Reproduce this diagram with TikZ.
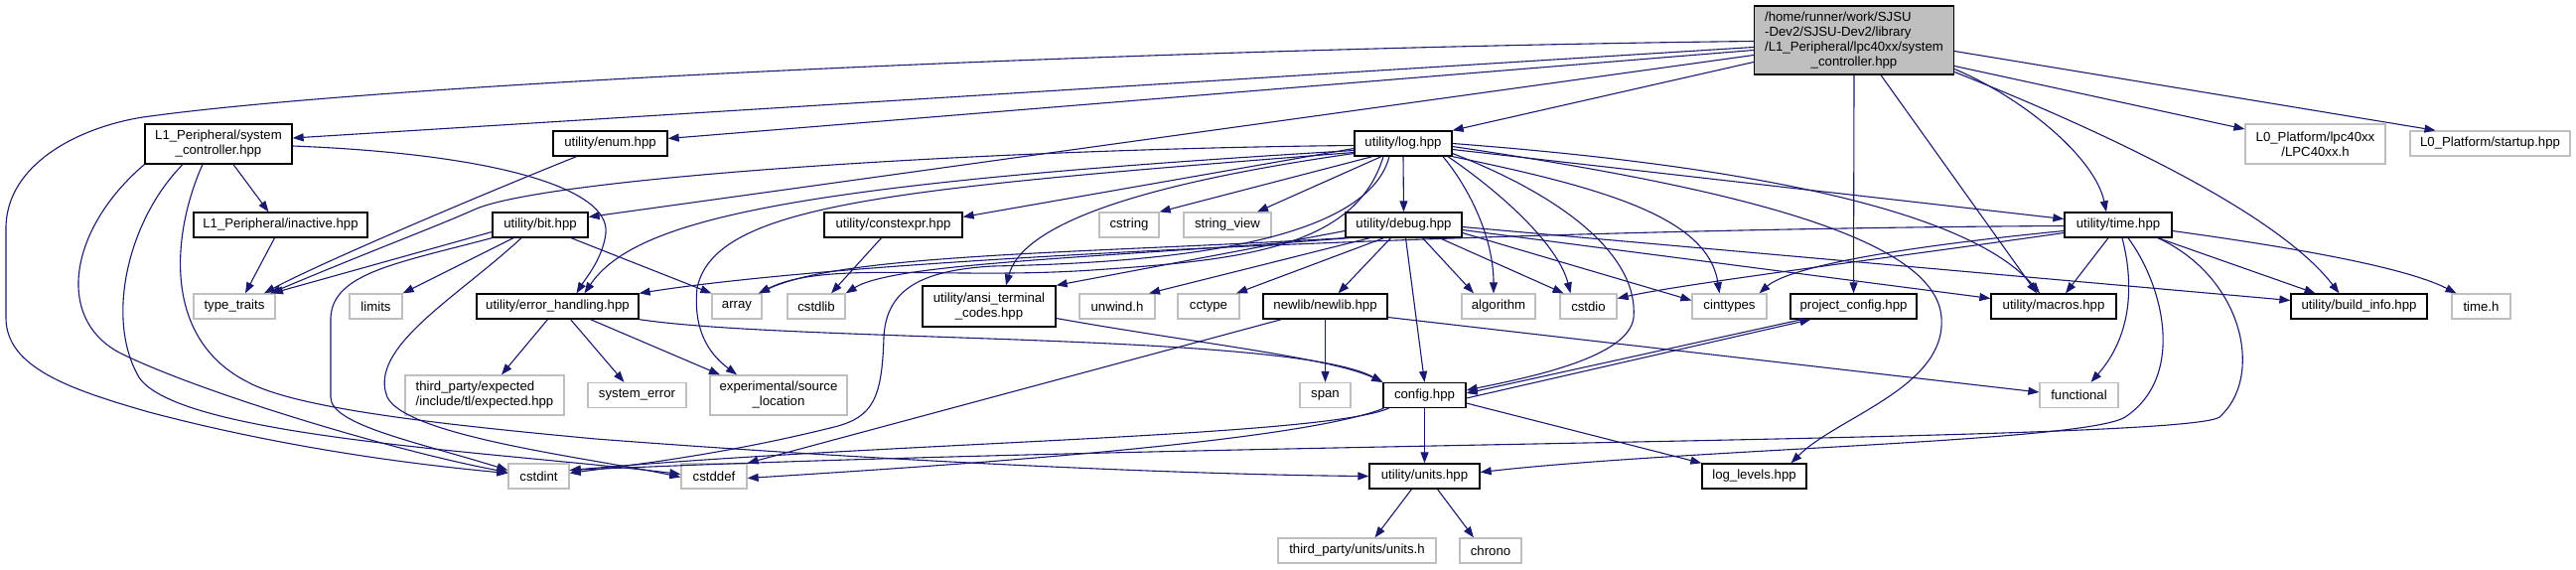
\documentclass[tikz,border=0pt]{standalone}
\usepackage{fontspec}
\setmainfont{Liberation Sans}
\usetikzlibrary{arrows.meta}
\definecolor{dblue}{HTML}{191970}
\definecolor{lgray}{HTML}{BFBFBF}
\begin{document}
\begin{tikzpicture}[x=1pt,y=-1pt,
  box/.style={draw=black, line width=1.3pt, inner sep=0pt, font=\fontsize{13.2}{15}\selectfont, align=center, minimum height=25pt, fill=white},
  gbox/.style={box, draw=lgray},
  two/.style={minimum height=40pt},
  edge/.style={draw=dblue, line width=1.1pt, -{Triangle[length=11pt,width=8pt]}}]
\fill[white] (0,0) rectangle (2594,573);
\useasboundingbox (0,0) rectangle (2594,573);

% ---- nodes ----
\node[box, fill=lgray, minimum width=201pt, minimum height=69pt] (main) at (1867,40.5)
 {\begin{tabular}{@{}l@{}}/home/runner/work/SJSU\\-Dev2/SJSU-Dev2/library\\/L1\_Peripheral/lpc40xx/system\\\multicolumn{1}{@{}c@{}}{\_controller.hpp}\end{tabular}};
\node[box, two, minimum width=148pt] (L1sys) at (220,145) {L1\_Peripheral/system\\\_controller.hpp};
\node[box, minimum width=115pt] (enum) at (614.5,144.5) {utility/enum.hpp};
\node[box, minimum width=98pt] (log) at (1413,144.5) {utility/log.hpp};
\node[gbox, two, minimum width=141pt] (lpc) at (2331.5,145) {L0\_Platform/lpc40xx\\/LPC40xx.h};
\node[gbox, minimum width=161pt] (startup) at (2507.5,144.5) {L0\_Platform/startup.hpp};

\node[box, minimum width=175pt] (inactive) at (282.5,226.5) {L1\_Peripheral/inactive.hpp};
\node[box, minimum width=96pt] (bit) at (544,226.5) {utility/bit.hpp};
\node[box, minimum width=139pt] (constexpr) at (899.5,226.5) {utility/constexpr.hpp};
\node[gbox, minimum width=60pt] (cstring) at (1137,226.5) {cstring};
\node[gbox, minimum width=88pt] (stringview) at (1236,226.5) {string\_view};
\node[box, minimum width=117pt] (debug) at (1413.5,226.5) {utility/debug.hpp};
\node[box, minimum width=108pt] (time) at (2133,226.5) {utility/time.hpp};

\node[gbox, minimum width=82pt] (typetraits) at (236,308.5) {type\_traits};
\node[gbox, minimum width=53pt] (limits) at (378.5,308.5) {limits};
\node[box, minimum width=163pt] (errh) at (561.5,308.5) {utility/error\_handling.hpp};
\node[gbox, minimum width=50pt] (array) at (742,308.5) {array};
\node[gbox, minimum width=58pt] (cstdlib) at (822,308.5) {cstdlib};
\node[box, minimum width=134pt, minimum height=41pt] (ansi) at (996,308.5) {utility/ansi\_terminal\\\_codes.hpp};
\node[gbox, minimum width=76pt] (unwind) at (1125,308.5) {unwind.h};
\node[gbox, minimum width=62pt] (cctype) at (1217,308.5) {cctype};
\node[box, minimum width=125pt] (newlib) at (1334.5,308.5) {newlib/newlib.hpp};
\node[gbox, minimum width=74pt] (algorithm) at (1509,308.5) {algorithm};
\node[gbox, minimum width=57pt] (cstdio) at (1599.5,308.5) {cstdio};
\node[gbox, minimum width=75pt] (cinttypes) at (1741.5,308.5) {cinttypes};
\node[box, minimum width=127pt] (projconf) at (1866.5,308.5) {project\_config.hpp};
\node[box, minimum width=126pt] (macros) at (2068,308.5) {utility/macros.hpp};
\node[box, minimum width=137pt] (buildinfo) at (2375.5,308.5) {utility/build\_info.hpp};
\node[gbox, minimum width=59pt] (timeh) at (2498.5,308.5) {time.h};

\node[gbox, two, minimum width=160pt, align=left] (expected) at (488,398) {third\_party/expected\\/include/tl/expected.hpp};
\node[gbox, minimum width=99pt] (syserr) at (641.5,398) {system\_error};
\node[gbox, two, minimum width=138pt] (srcloc) at (784,398) {experimental/source\\\_location};
\node[gbox, minimum width=51pt] (span) at (1334.5,398) {span};
\node[box, minimum width=83pt] (config) at (1434.5,398) {config.hpp};
\node[gbox, minimum width=79pt] (functional) at (2093.5,398) {functional};

\node[gbox, minimum width=61pt] (cstdint) at (542.5,479.5) {cstdint};
\node[gbox, minimum width=66pt] (cstddef) at (719,479.5) {cstddef};
\node[box, minimum width=111pt] (units) at (1434.5,479.5) {utility/units.hpp};
\node[box, minimum width=105pt] (loglevels) at (1766.5,479.5) {log\_levels.hpp};

\node[gbox, minimum width=159pt] (unitsh) at (1366.5,554.5) {third\_party/units/units.h};
\node[gbox, minimum width=62pt] (chrono) at (1501,554.5) {chrono};

% ---- edges: main ----
\draw[edge] ([yshift=-7pt]main.west) -- ([yshift=6pt]L1sys.east);
\draw[edge] ([yshift=-10pt]main.west) -- ([yshift=5pt]enum.east);
\draw[edge] ([yshift=-1pt]main.west) .. controls (1200,48) and (400,82) .. (144,118) .. controls (80,128) and (6,165) .. (6,230) -- (6,320) .. controls (6,370) and (70,392) .. (150,415) .. controls (290,452) and (420,468) .. ([yshift=3pt]cstdint.west);
\draw[edge] ([yshift=-22pt]main.west) -- (log.north east);
\draw[edge] ([yshift=-15pt]main.west) -- ([yshift=8pt]bit.east);
\draw[edge] ([yshift=-26pt]main.east) -- ([yshift=15pt]lpc.west);
\draw[edge] ([yshift=-11pt]main.east) -- ([xshift=-55pt]startup.north);
\draw[edge] ([yshift=-29pt]main.east) .. controls (2040,100) and (2110,160) .. ([xshift=-12pt]time.north);
\draw[edge] ([yshift=-32pt]main.east) .. controls (2100,125) and (2290,210) .. ([xshift=-20pt]buildinfo.north);
\draw[edge] (main.south) -- (projconf.north);
\draw[edge] ([xshift=27pt]main.south) -- ([xshift=-17pt]macros.north);

% ---- edges: log ----
\draw[edge] ([yshift=-2pt]log.west) .. controls (1000,150) and (560,178) .. (480,210) .. controls (440,228) and (380,250) .. ([xshift=36pt]typetraits.north);
\draw[edge] ([yshift=-5pt]log.west) -- ([yshift=8pt]constexpr.east);
\draw[edge] ([yshift=-7pt]log.west) .. controls (800,185) and (640,220) .. ([xshift=27pt]errh.north);
\draw[edge] ([yshift=-9pt]log.west) .. controls (900,190) and (720,205) .. (702,290) .. controls (698,330) and (712,355) .. ([xshift=-42pt]srcloc.north);
\draw[edge] ([xshift=-20pt]log.south) .. controls (1365,250) and (1250,262) .. (1100,272) .. controls (950,282) and (830,262) .. ([xshift=22pt]array.north);
\draw[edge] ([yshift=-10pt]log.west) .. controls (1150,185) and (1030,225) .. ([xshift=17pt]ansi.north);
\draw[edge] ([xshift=-31pt]log.south) -- (cstring.north east);
\draw[edge] ([xshift=-22pt]log.south) -- ([xshift=30pt]stringview.north);
\draw[edge] (log.south) -- (debug.north);
\draw[edge] ([xshift=-14pt]log.south) .. controls (1375,250) and (1150,265) .. (1000,268) .. controls (930,272) and (892,290) .. (890,340) .. controls (888,400) and (880,420) .. (840,430) .. controls (720,460) and (620,470) .. ([yshift=3pt]cstdint.east);
\draw[edge] ([xshift=40pt]log.south) .. controls (1480,190) and (1504,240) .. ([xshift=-5pt]algorithm.north);
\draw[edge] ([xshift=45pt]log.south) .. controls (1520,200) and (1570,250) .. ([xshift=-18pt]cstdio.north);
\draw[edge] (log.south east) .. controls (1620,190) and (1720,220) .. ([xshift=-10pt]cinttypes.north);
\draw[edge] ([yshift=-10pt]log.east) .. controls (1580,200) and (1650,260) .. (1645,320) .. controls (1640,360) and (1540,380) .. ([yshift=5pt]config.east);
\draw[edge] ([yshift=-3pt]log.east) .. controls (1750,190) and (1950,240) .. (1955,320) .. controls (1960,390) and (1850,420) .. ([xshift=37pt]loglevels.north);
\draw[edge] (log.east) .. controls (1800,170) and (1990,220) .. ([xshift=-14pt]macros.north);
\draw[edge] ([yshift=-6pt]log.east) -- ([yshift=6pt]time.west);

% ---- edges: debug ----
\draw[edge] (debug.south west) .. controls (1100,255) and (850,255) .. ([xshift=22pt]array.north);
\draw[edge] ([xshift=4pt]debug.south west) .. controls (1100,260) and (900,265) .. (cstdlib.north east);
\draw[edge] ([yshift=-6pt]debug.west) -- (ansi.north east);
\draw[edge] ([xshift=-34pt]debug.south) -- ([xshift=32pt]unwind.north);
\draw[edge] ([xshift=-20pt]debug.south) -- ([xshift=28pt]cctype.north);
\draw[edge] ([xshift=-13pt]debug.south) -- ([xshift=13pt]newlib.north);
\draw[edge] ([xshift=2pt]debug.south) -- (config.north);
\draw[edge] ([xshift=19pt]debug.south) -- ([xshift=-25pt]algorithm.north);
\draw[edge] ([xshift=36pt]debug.south) -- ([xshift=-25pt]cstdio.north);
\draw[edge] ([yshift=-8pt]debug.east) -- ([yshift=6pt]cinttypes.west);
\draw[edge] ([yshift=-5pt]debug.east) -- ([yshift=8pt]macros.west);
\draw[edge] ([yshift=-2pt]debug.east) -- ([yshift=6pt]buildinfo.west);

% ---- edges: time ----
\draw[edge] ([yshift=-1pt]time.west) .. controls (1600,230) and (900,255) .. (errh.north east);
\draw[edge] ([yshift=-6pt]time.west) .. controls (1900,250) and (1800,270) .. ([xshift=30pt]cinttypes.north);
\draw[edge] ([yshift=-8pt]time.west) .. controls (1900,260) and (1700,285) .. ([yshift=8pt]cstdio.east);
\draw[edge] ([xshift=-10pt]time.south) -- ([xshift=12pt]macros.north);
\draw[edge] ([xshift=4pt]time.south) .. controls (2150,290) and (2145,340) .. ([xshift=12pt]functional.north);
\draw[edge] ([xshift=10pt]time.south) .. controls (2180,290) and (2200,380) .. (2140,420) .. controls (2100,445) and (1700,452) .. ([yshift=4pt]units.east);
\draw[edge] ([xshift=40pt]time.south) .. controls (2260,280) and (2280,380) .. (2235,420) .. controls (2200,445) and (1200,445) .. ([yshift=6pt]cstdint.east);
\draw[edge] ([xshift=40pt]time.south) -- ([xshift=-44pt]buildinfo.north);
\draw[edge] ([yshift=-6pt]time.east) .. controls (2300,248) and (2420,268) .. ([xshift=-25pt]timeh.north);

% ---- edges: L1sys ----
\draw[edge] ([xshift=15pt]L1sys.south) -- ([xshift=-12pt]inactive.north);
\draw[edge] ([yshift=-2pt]L1sys.east) .. controls (500,155) and (615,190) .. (610,235) .. controls (607,260) and (590,280) .. ([xshift=19pt]errh.north);
\draw[edge] (L1sys.south west) .. controls (70,230) and (55,320) .. (120,355) .. controls (200,395) and (400,455) .. ([yshift=4pt]cstdint.west);
\draw[edge] ([xshift=-36pt]L1sys.south) .. controls (130,220) and (105,320) .. (140,380) .. controls (180,440) and (500,455) .. ([yshift=2pt]cstddef.west);
\draw[edge] ([xshift=-16pt]L1sys.south) .. controls (175,230) and (160,340) .. (250,385) .. controls (300,412) and (450,428) .. (600,442) .. controls (900,465) and (1200,478) .. (units.west);

% ---- edges: enum, inactive, bit ----
\draw[edge] ([xshift=-34pt]enum.south) .. controls (480,198) and (320,266) .. ([xshift=30pt]typetraits.north);
\draw[edge] ([xshift=-6pt]inactive.south) -- ([xshift=11pt]typetraits.north);
\draw[edge] ([yshift=-7pt]bit.west) -- ([xshift=38pt]typetraits.north);
\draw[edge] (bit.south west) .. controls (400,265) and (335,275) .. (333,320) -- (333,400) .. controls (333,428) and (420,445) .. ([yshift=6pt]cstdint.west);
\draw[edge] ([xshift=-27pt]bit.south) -- (limits.north east);
\draw[edge] ([xshift=-19pt]bit.south) .. controls (460,300) and (370,350) .. (390,400) .. controls (410,440) and (600,462) .. ([yshift=-1pt]cstddef.west);
\draw[edge] ([xshift=31pt]bit.south) -- (array.north west);

% ---- edges: error_handling, ansi, newlib, constexpr ----
\draw[edge] ([xshift=-10pt]errh.south) -- ([xshift=17pt]expected.north);
\draw[edge] ([xshift=13pt]errh.south) -- ([xshift=-13pt]syserr.north);
\draw[edge] ([xshift=33pt]errh.south) -- ([xshift=-59pt]srcloc.north);
\draw[edge] (errh.south east) .. controls (800,345) and (1300,335) .. (config.north west);
\draw[edge] ([yshift=-12pt]ansi.east) .. controls (1200,345) and (1340,360) .. (config.north west);
\draw[edge] (newlib.south) -- (span.north);
\draw[edge] ([xshift=-44pt]newlib.south) -- (cstddef.north east);
\draw[edge] ([yshift=-11pt]newlib.east) -- ([yshift=3pt]functional.west);
\draw[edge] ([xshift=-12pt]constexpr.south) -- ([xshift=15pt]cstdlib.north);

% ---- edges: project_config, config, units ----
\draw[edge] ([xshift=-52pt]projconf.south) -- ([yshift=2pt]config.east);
\draw[edge] ([yshift=-3pt]config.east) -- ([xshift=-43pt]projconf.south);
\draw[edge] (config.south) -- (units.north);
\draw[edge] ([yshift=-8pt]config.east) -- (loglevels.north west);
\draw[edge] ([xshift=-36pt]config.south) .. controls (1330,440) and (900,445) .. ([yshift=6pt]cstdint.east);
\draw[edge] ([xshift=-41pt]config.south) .. controls (1300,448) and (900,472) .. ([yshift=-2pt]cstddef.east);
\draw[edge] ([xshift=-13pt]units.south) -- ([xshift=18pt]unitsh.north);
\draw[edge] ([xshift=13pt]units.south) -- ([xshift=-17pt]chrono.north);
\end{tikzpicture}
\end{document}
